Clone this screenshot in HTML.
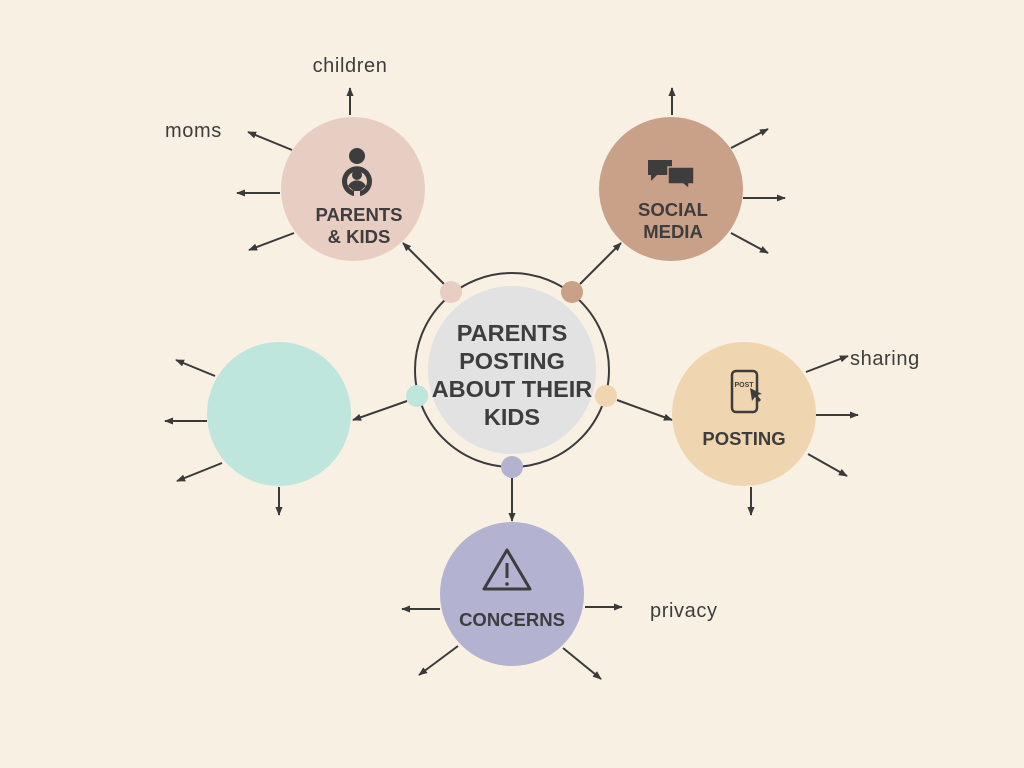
<!DOCTYPE html>
<html><head><meta charset="utf-8"><style>
html,body{margin:0;padding:0;background:#f8f0e3;}
svg{display:block;font-family:"Liberation Sans",sans-serif;}
</style></head><body>
<svg width="1024" height="768" viewBox="0 0 1024 768">
<defs>
<marker id="a" viewBox="0 0 10 10" refX="9" refY="5" markerWidth="4.5" markerHeight="4.5" orient="auto"><path d="M0,1 L10,5 L0,9 z" fill="#3a3a3a"/></marker>
</defs>
<rect width="1024" height="768" fill="#f8f0e3"/>
<g stroke="#3a3a3a" stroke-width="2" marker-end="url(#a)">
<line x1="444" y1="284" x2="403" y2="243"/>
<line x1="580" y1="284" x2="621" y2="243"/>
<line x1="407" y1="401" x2="353" y2="420"/>
<line x1="617" y1="400" x2="672" y2="420"/>
<line x1="512" y1="478" x2="512" y2="521"/>
<line x1="350" y1="115" x2="350" y2="88"/>
<line x1="292" y1="150" x2="248" y2="132"/>
<line x1="280" y1="193" x2="237" y2="193"/>
<line x1="294" y1="233" x2="249" y2="250"/>
<line x1="672" y1="115" x2="672" y2="88"/>
<line x1="731" y1="148" x2="768" y2="129"/>
<line x1="743" y1="198" x2="785" y2="198"/>
<line x1="731" y1="233" x2="768" y2="253"/>
<line x1="215" y1="376" x2="176" y2="360"/>
<line x1="207" y1="421" x2="165" y2="421"/>
<line x1="222" y1="463" x2="177" y2="481"/>
<line x1="279" y1="487" x2="279" y2="515"/>
<line x1="806" y1="372" x2="848" y2="356"/>
<line x1="816" y1="415" x2="858" y2="415"/>
<line x1="808" y1="454" x2="847" y2="476"/>
<line x1="751" y1="487" x2="751" y2="515"/>
<line x1="440" y1="609" x2="402" y2="609"/>
<line x1="585" y1="607" x2="622" y2="607"/>
<line x1="458" y1="646" x2="419" y2="675"/>
<line x1="563" y1="648" x2="601" y2="679"/>
</g>
<circle cx="512" cy="370" r="97" fill="none" stroke="#3a3a3a" stroke-width="2"/>
<circle cx="512" cy="370" r="84" fill="#e2e2e2"/>
<circle cx="353" cy="189" r="72" fill="#e8cdc2"/>
<circle cx="671" cy="189" r="72" fill="#c9a188"/>
<circle cx="279" cy="414" r="72" fill="#bfe6dc"/>
<circle cx="744" cy="414" r="72" fill="#efd5b0"/>
<circle cx="512" cy="594" r="72" fill="#b3b2d0"/>
<circle cx="451" cy="292" r="11" fill="#e8cdc2"/>
<circle cx="572" cy="292" r="11" fill="#c9a188"/>
<circle cx="417" cy="396" r="11" fill="#bfe6dc"/>
<circle cx="606" cy="396" r="11" fill="#efd5b0"/>
<circle cx="512" cy="467" r="11" fill="#b3b2d0"/>
<g fill="#3d3d3d" font-weight="bold" text-anchor="middle">
<text x="512" y="341" font-size="23.5">PARENTS</text>
<text x="512" y="369" font-size="23.5">POSTING</text>
<text x="512" y="397" font-size="23.5">ABOUT THEIR</text>
<text x="512" y="425" font-size="23.5">KIDS</text>
<text x="359" y="221" font-size="18.5">PARENTS</text>
<text x="359" y="243" font-size="18.5">&amp; KIDS</text>
<text x="673" y="216" font-size="18.5">SOCIAL</text>
<text x="673" y="238" font-size="18.5">MEDIA</text>
<text x="744" y="445" font-size="18.5">POSTING</text>
<text x="512" y="626" font-size="18.5">CONCERNS</text>
</g>
<g fill="#3d3d3d" font-size="20" letter-spacing="0.6">
<text x="350" y="72" text-anchor="middle">children</text>
<text x="165" y="137">moms</text>
<text x="850" y="365">sharing</text>
<text x="650" y="617">privacy</text>
</g>
<!-- parent icon -->
<circle cx="357" cy="156" r="8" fill="#3d3d3d"/>
<path d="M354,196 A15,15 0 1 1 360,196 L360,191 A10,10 0 1 0 354,191 Z" fill="#3d3d3d"/>
<circle cx="357" cy="175" r="5" fill="#3d3d3d"/>
<path d="M348,186 A10,10 0 0 1 366,186 L360,191 L354,191 Z" fill="#3d3d3d"/>
<!-- social icon -->
<path d="M648,160 h24 v15 h-15 l-6,6 v-6 h-3 z" fill="#3d3d3d"/>
<path d="M668,167 h26 v17 h-5 v5 l-6,-5 h-15 z" fill="#3d3d3d" stroke="#c9a188" stroke-width="1.5"/>
<!-- phone icon -->
<rect x="732" y="371" width="25" height="41" rx="4" fill="none" stroke="#3d3d3d" stroke-width="2.5"/>
<text x="744" y="387" font-size="7" font-weight="bold" text-anchor="middle" fill="#3d3d3d">POST</text>
<path d="M750,388 l12,6 l-5,1 l4,5 l-2,2 l-4,-5 l-3,4 z" fill="#3d3d3d"/>
<!-- warning -->
<path d="M507,550 L484,589 L530,589 Z" fill="none" stroke="#3d3d3d" stroke-width="3" stroke-linejoin="round"/>
<line x1="507" y1="563" x2="507" y2="578" stroke="#3d3d3d" stroke-width="3"/>
<circle cx="507" cy="584" r="1.8" fill="#3d3d3d"/>
</svg>
</body></html>
